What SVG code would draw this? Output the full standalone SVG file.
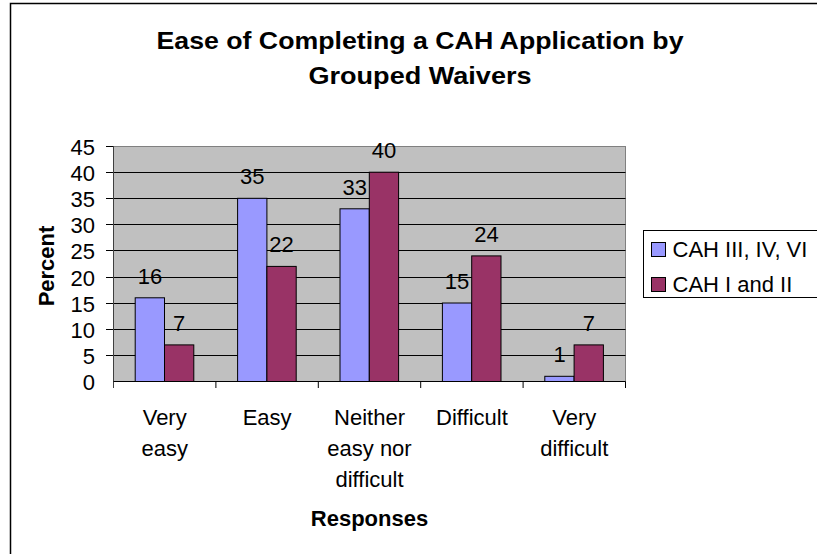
<svg xmlns="http://www.w3.org/2000/svg" width="817" height="554" viewBox="0 0 817 554">
<style>
text{font-family:"Liberation Sans",Arial,sans-serif;fill:#000}
.t{font-size:24px;font-weight:bold;text-anchor:middle}
.ax{font-size:22px;font-weight:bold;text-anchor:middle}
.yl{font-size:22px;text-anchor:end}
.dl{font-size:22px;text-anchor:middle}
.cl{font-size:22px;text-anchor:middle}
.lg{font-size:22px}
.grid{stroke:#000;stroke-width:1}
.b1{fill:#9999ff;stroke:#000;stroke-width:1}
.b2{fill:#993366;stroke:#000;stroke-width:1}
</style>
<rect x="0" y="0" width="817" height="554" fill="#fff"/>
<rect x="10.5" y="3.5" width="830" height="580" fill="#fff" stroke="#000" stroke-width="1.5"/>
<g id="title">
<text class="t" x="420" y="48.5" textLength="527" lengthAdjust="spacingAndGlyphs">Ease of Completing a CAH Application by</text>
<text class="t" x="420" y="84" textLength="223" lengthAdjust="spacingAndGlyphs">Grouped Waivers</text>
</g>
<g id="plot">
<rect x="113.5" y="146.5" width="512" height="235" fill="#c0c0c0" stroke="#808080" stroke-width="1"/>
<g class="grid">
<line x1="106" y1="146.5" x2="113.5" y2="146.5"/>
<line x1="106" y1="172.5" x2="625.5" y2="172.5"/>
<line x1="106" y1="198.5" x2="625.5" y2="198.5"/>
<line x1="106" y1="224.5" x2="625.5" y2="224.5"/>
<line x1="106" y1="250.5" x2="625.5" y2="250.5"/>
<line x1="106" y1="277.5" x2="625.5" y2="277.5"/>
<line x1="106" y1="303.5" x2="625.5" y2="303.5"/>
<line x1="106" y1="329.5" x2="625.5" y2="329.5"/>
<line x1="106" y1="355.5" x2="625.5" y2="355.5"/>
</g>
</g>
<g id="y-axis">
<line x1="113.5" y1="146.5" x2="113.5" y2="388" stroke="#404040" stroke-width="1"/>
<text class="yl" x="95" y="154.5">45</text>
<text class="yl" x="95" y="180.5">40</text>
<text class="yl" x="95" y="206.5">35</text>
<text class="yl" x="95" y="232.5">30</text>
<text class="yl" x="95" y="258.5">25</text>
<text class="yl" x="95" y="285.5">20</text>
<text class="yl" x="95" y="311.5">15</text>
<text class="yl" x="95" y="337.5">10</text>
<text class="yl" x="95" y="363.5">5</text>
<text class="yl" x="95" y="389.5">0</text>
<text class="ax" transform="translate(54,266) rotate(-90)">Percent</text>
</g>
<g id="bars-very-easy">
<rect class="b1" x="135.2" y="297.8" width="29.3" height="83.7"/>
<rect class="b2" x="164.5" y="344.9" width="29.3" height="36.6"/>
<text class="dl" x="149.9" y="283.8">16</text>
<text class="dl" x="179.2" y="330.9">7</text>
</g>
<g id="bars-easy">
<rect class="b1" x="237.6" y="198.3" width="29.3" height="183.2"/>
<rect class="b2" x="266.9" y="266.4" width="29.3" height="115.1"/>
<text class="dl" x="252.3" y="184.3">35</text>
<text class="dl" x="281.6" y="252.4">22</text>
</g>
<g id="bars-neither">
<rect class="b1" x="340" y="208.8" width="29.3" height="172.7"/>
<rect class="b2" x="369.3" y="172.2" width="29.3" height="209.3"/>
<text class="dl" x="354.7" y="194.8">33</text>
<text class="dl" x="384" y="158.2">40</text>
</g>
<g id="bars-difficult">
<rect class="b1" x="442.4" y="303" width="29.3" height="78.5"/>
<rect class="b2" x="471.7" y="255.9" width="29.3" height="125.6"/>
<text class="dl" x="457.1" y="289">15</text>
<text class="dl" x="486.4" y="241.9">24</text>
</g>
<g id="bars-very-difficult">
<rect class="b1" x="544.8" y="376.3" width="29.3" height="5.2"/>
<rect class="b2" x="574.1" y="344.9" width="29.3" height="36.6"/>
<text class="dl" x="559.5" y="362.3">1</text>
<text class="dl" x="588.8" y="330.9">7</text>
</g>
<g id="x-axis">
<line x1="113.5" y1="381.5" x2="625.5" y2="381.5" stroke="#000" stroke-width="1"/>
<g stroke="#000" stroke-width="1">
<line x1="215.9" y1="381.5" x2="215.9" y2="388"/>
<line x1="318.3" y1="381.5" x2="318.3" y2="388"/>
<line x1="420.7" y1="381.5" x2="420.7" y2="388"/>
<line x1="523.1" y1="381.5" x2="523.1" y2="388"/>
<line x1="625.5" y1="381.5" x2="625.5" y2="388"/>
</g>
<text class="cl" x="164.7" y="425">Very</text>
<text class="cl" x="164.7" y="456">easy</text>
<text class="cl" x="267.1" y="425">Easy</text>
<text class="cl" x="369.5" y="425">Neither</text>
<text class="cl" x="369.5" y="456">easy nor</text>
<text class="cl" x="369.5" y="487">difficult</text>
<text class="cl" x="471.9" y="425">Difficult</text>
<text class="cl" x="574.3" y="425">Very</text>
<text class="cl" x="574.3" y="456">difficult</text>
<text class="ax" x="369.5" y="525.5">Responses</text>
</g>
<g id="legend">
<rect x="643.5" y="230.5" width="190" height="67" fill="#fff" stroke="#000" stroke-width="1"/>
<rect class="b1" x="651.5" y="242.5" width="14" height="14"/>
<text class="lg" x="672.5" y="257">CAH III, IV, VI</text>
<rect class="b2" x="651.5" y="277.5" width="14" height="14"/>
<text class="lg" x="672.5" y="292">CAH I and II</text>
</g>
</svg>
